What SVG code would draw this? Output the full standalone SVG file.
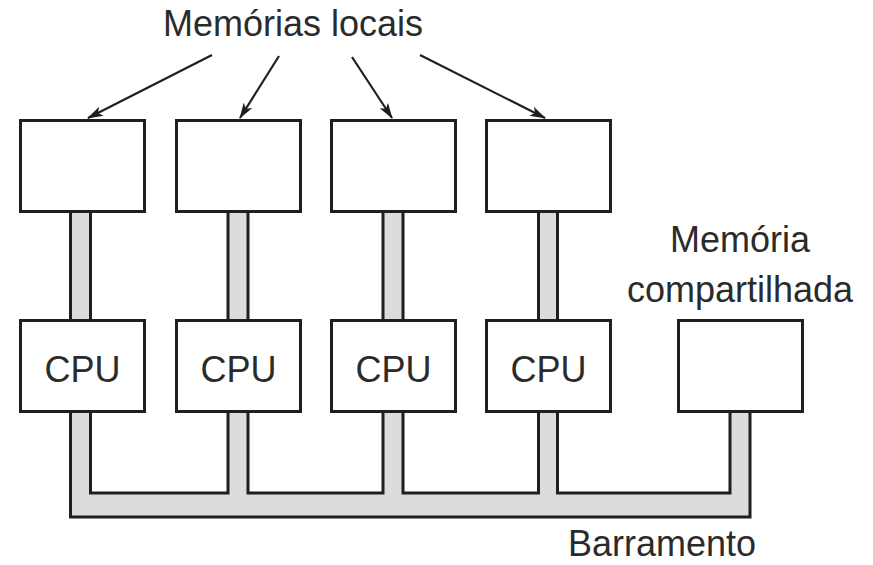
<svg xmlns="http://www.w3.org/2000/svg" width="873" height="565" viewBox="0 0 873 565">
  <defs>
    <style>
      .box { fill: #ffffff; stroke: #1f1f1f; stroke-width: 3; }
      .halo { fill: none; stroke: #b5b5b5; stroke-width: 6; }
      .bus { fill: #dcdcdc; stroke: #1f1f1f; stroke-width: 3; stroke-linejoin: miter; }
      .lbl { font-family: "Liberation Sans", Arial, sans-serif; font-size: 36px; fill: #2b2b2b; text-anchor: middle; }
      .arrow { stroke: #1f1f1f; stroke-width: 2.2; fill: none; marker-end: url(#head); }
    </style>
    <marker id="head" viewBox="0 0 16 10" refX="15" refY="5" markerWidth="16" markerHeight="10" markerUnits="userSpaceOnUse" orient="auto">
      <path d="M0,0 L16,5 L0,10 L4,5 Z" fill="#1f1f1f"/>
    </marker>
  </defs>

  <rect width="873" height="565" fill="#ffffff"/>

  <!-- links between local memories and CPUs -->
  <g id="connectors">
    <rect class="bus" x="70.5" y="205" width="20" height="120"/>
    <rect class="bus" x="228" y="205" width="20" height="120"/>
    <rect class="bus" x="383" y="205" width="20" height="120"/>
    <rect class="bus" x="538.5" y="205" width="19" height="120"/>

    <!-- shared bus (comb shape) -->
    <path id="bus" class="bus" d="M70.5,405 L70.5,517 L750,517 L750,405 L730,405 L730,493 L557.5,493 L557.5,405 L538.5,405 L538.5,493 L403,493 L403,405 L383,405 L383,493 L248,493 L248,405 L228,405 L228,493 L90.5,493 L90.5,405 Z"/>

    <line class="arrow" x1="212" y1="55" x2="88" y2="118"/>
    <line class="arrow" x1="279" y1="56" x2="240" y2="118"/>
    <line class="arrow" x1="352" y1="57" x2="392" y2="118"/>
    <line class="arrow" x1="420" y1="55" x2="545" y2="118"/>
  </g>

  <!-- local memories -->
  <g id="mem1"><rect class="box" x="20.5" y="120.5" width="124" height="91"/></g>
  <g id="mem2"><rect class="box" x="176.5" y="120.5" width="124" height="91"/></g>
  <g id="mem3"><rect class="box" x="331.5" y="120.5" width="124" height="91"/></g>
  <g id="mem4"><rect class="box" x="486.5" y="120.5" width="124" height="91"/></g>

  <!-- processors -->
  <g id="cpu1"><rect class="box" x="20.5" y="320.5" width="124" height="91"/><text class="lbl" x="82.5" y="382">CPU</text></g>
  <g id="cpu2"><rect class="box" x="176.5" y="320.5" width="124" height="91"/><text class="lbl" x="238.5" y="382">CPU</text></g>
  <g id="cpu3"><rect class="box" x="331.5" y="320.5" width="124" height="91"/><text class="lbl" x="393.5" y="382">CPU</text></g>
  <g id="cpu4"><rect class="box" x="486.5" y="320.5" width="124" height="91"/><text class="lbl" x="548.5" y="382">CPU</text></g>

  <!-- shared memory -->
  <g id="shared"><rect class="box" x="678.5" y="320.5" width="124" height="91"/></g>

  <!-- labels -->
  <g id="labels">
    <text class="lbl" x="293" y="36">Memórias locais</text>
    <text class="lbl" x="740" y="252">Memória</text>
    <text class="lbl" x="740" y="302">compartilhada</text>
    <text class="lbl" x="662" y="556">Barramento</text>
  </g>
</svg>
